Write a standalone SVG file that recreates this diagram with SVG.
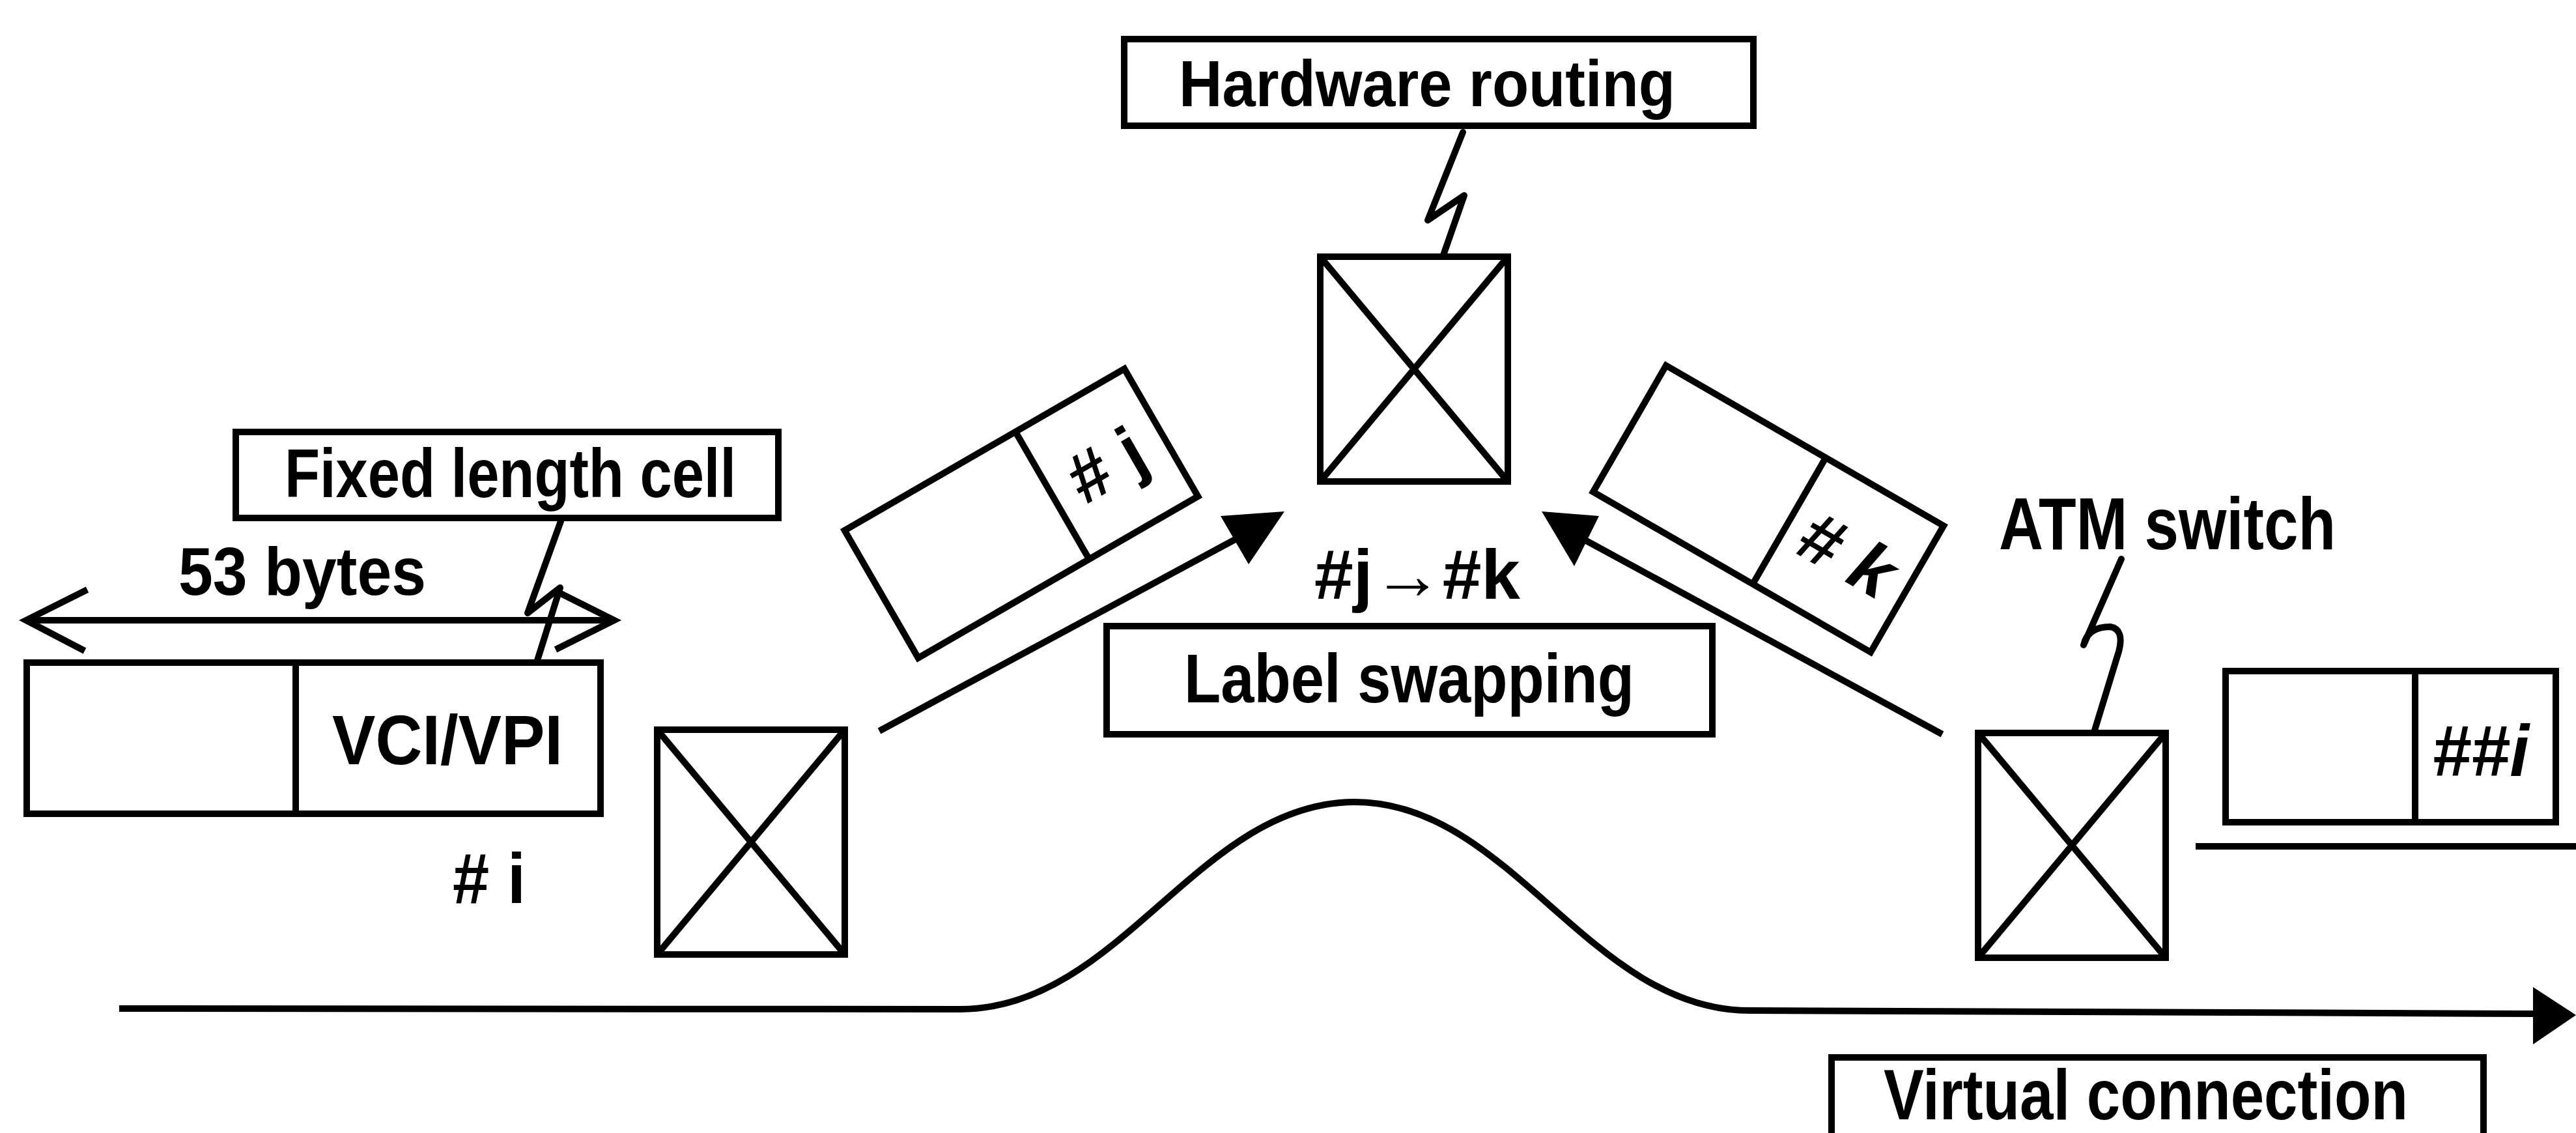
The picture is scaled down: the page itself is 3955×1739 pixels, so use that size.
<svg xmlns="http://www.w3.org/2000/svg" width="3955" height="1739" viewBox="0 0 3955 1739">
  <style>
    .box { fill: #fff; stroke: #000; stroke-width: 10; }
    .ln { fill: none; stroke: #000; stroke-width: 10; stroke-linejoin: miter; }
    .bolt { fill: none; stroke: #000; stroke-width: 10; stroke-linejoin: round; stroke-linecap: round; }
    .head { fill: #000; stroke: none; }
    .t { font-family: "Liberation Sans", Arial, sans-serif; font-weight: bold; fill: #000; }
    .ti { font-family: "Liberation Sans", Arial, sans-serif; font-weight: bold; font-style: italic; fill: #000; }
  </style>
  <defs>
    <!-- ATM switch symbol: rectangle with both diagonals -->
    <symbol id="switch" viewBox="0 0 288 345" overflow="visible">
      <rect class="box" x="0" y="0" width="288" height="345"/>
      <path class="ln" d="M0,0 L288,345 M288,0 L0,345"/>
    </symbol>
  </defs>

  <rect width="3955" height="1739" fill="#fff"/>

  <!-- connectors -->
  <g id="connectors">
    <!-- virtual connection path with bump over the middle switch -->
    <path class="ln" d="M183,1548 L1474,1549 C1720,1549 1840,1231 2080,1231 C2320,1231 2440,1551 2686,1551 L3892,1556"/>
    <polygon class="head" points="3889,1515 3955,1558 3889,1603"/>
    <!-- cell #j travelling to the middle switch -->
    <path class="ln" d="M1350,1122 L1900,826"/>
    <polygon class="head" points="1972,785 1874,792 1917,866"/>
    <!-- cell #k travelling to the middle switch -->
    <path class="ln" d="M2982,1127 L2430,827"/>
    <polygon class="head" points="2367,785 2455,792 2417,869"/>
    <!-- 53 bytes dimension arrow -->
    <path class="ln" d="M40,952 L943,952 M134,905 L40,952 L130,999 M853,907 L943,952 L853,997"/>
    <!-- output line under the last cell -->
    <path class="ln" d="M3371,1299 L3955,1299"/>
    <!-- callout bolts -->
    <path class="bolt" d="M861,800 L810,941 L860,902 L807,1071"/>
    <path class="bolt" d="M2246,203 L2192,338 L2248,300 L2190,466"/>
    <path class="bolt" d="M3257,858 L3199,990 Q3205,962 3240,962 Q3262,966 3253,1000 L3215,1124"/>
  </g>

  <!-- switches -->
  <g id="switch-left"><use href="#switch" x="1009" y="1120" width="288" height="345"/></g>
  <g id="switch-middle"><use href="#switch" x="2027" y="394" width="288" height="345"/></g>
  <g id="switch-right"><use href="#switch" x="3037" y="1125" width="288" height="345"/></g>

  <!-- incoming fixed length cell -->
  <g id="cell-in">
    <rect class="box" x="41" y="1017" width="881" height="232"/>
    <path class="ln" d="M454,1017 L454,1249"/>
    <text class="t" x="510" y="1173" font-size="107" textLength="354" lengthAdjust="spacingAndGlyphs">VCI/VPI</text>
  </g>
  <g id="label-i"><text class="t" x="695" y="1386" font-size="110" textLength="112" lengthAdjust="spacingAndGlyphs"># i</text></g>
  <g id="label-53"><text class="t" x="274" y="913" font-size="103" textLength="380" lengthAdjust="spacingAndGlyphs">53 bytes</text></g>

  <!-- cell #j (tilted) -->
  <g id="cell-j" transform="translate(1568,788) rotate(-30)">
    <rect class="box" x="-248" y="-113" width="496" height="226"/>
    <path class="ln" d="M55,-113 L55,113"/>
    <text class="t" x="150" y="38" font-size="108" text-anchor="middle"># j</text>
  </g>

  <!-- cell #k (tilted) -->
  <g id="cell-k" transform="translate(2715,781) rotate(30)">
    <rect class="box" x="-246" y="-112" width="492" height="224"/>
    <path class="ln" d="M37,-112 L37,112"/>
    <text class="ti" x="140" y="38" font-size="110" text-anchor="middle"># k</text>
  </g>

  <!-- outgoing cell ##i -->
  <g id="cell-out">
    <rect class="box" x="3417" y="1030" width="507" height="232"/>
    <path class="ln" d="M3708,1030 L3708,1262"/>
    <text class="ti" x="3734" y="1191" font-size="112" textLength="149" lengthAdjust="spacingAndGlyphs">##i</text>
  </g>

  <!-- labels -->
  <g id="label-fixed">
    <rect class="box" x="362" y="663" width="833" height="132"/>
    <text class="t" x="437" y="763" font-size="105" textLength="693" lengthAdjust="spacingAndGlyphs">Fixed length cell</text>
  </g>
  <g id="label-hardware">
    <rect class="box" x="1726" y="60" width="966" height="133"/>
    <text class="t" x="1810" y="163" font-size="100" textLength="762" lengthAdjust="spacingAndGlyphs">Hardware routing</text>
  </g>
  <g id="label-swap-map"><text class="t" x="2018" y="919" font-size="107" textLength="316" lengthAdjust="spacingAndGlyphs">#j→#k</text></g>
  <g id="label-swapping">
    <rect class="box" x="1699" y="961" width="930" height="166"/>
    <text class="t" x="1818" y="1078" font-size="105" textLength="691" lengthAdjust="spacingAndGlyphs">Label swapping</text>
  </g>
  <g id="label-atm"><text class="t" x="3069" y="843" font-size="113" textLength="517" lengthAdjust="spacingAndGlyphs">ATM switch</text></g>
  <g id="label-virtual">
    <rect class="box" x="2812" y="1623" width="1001" height="130"/>
    <text class="t" x="2892" y="1718" font-size="110" textLength="805" lengthAdjust="spacingAndGlyphs">Virtual connection</text>
  </g>
</svg>
